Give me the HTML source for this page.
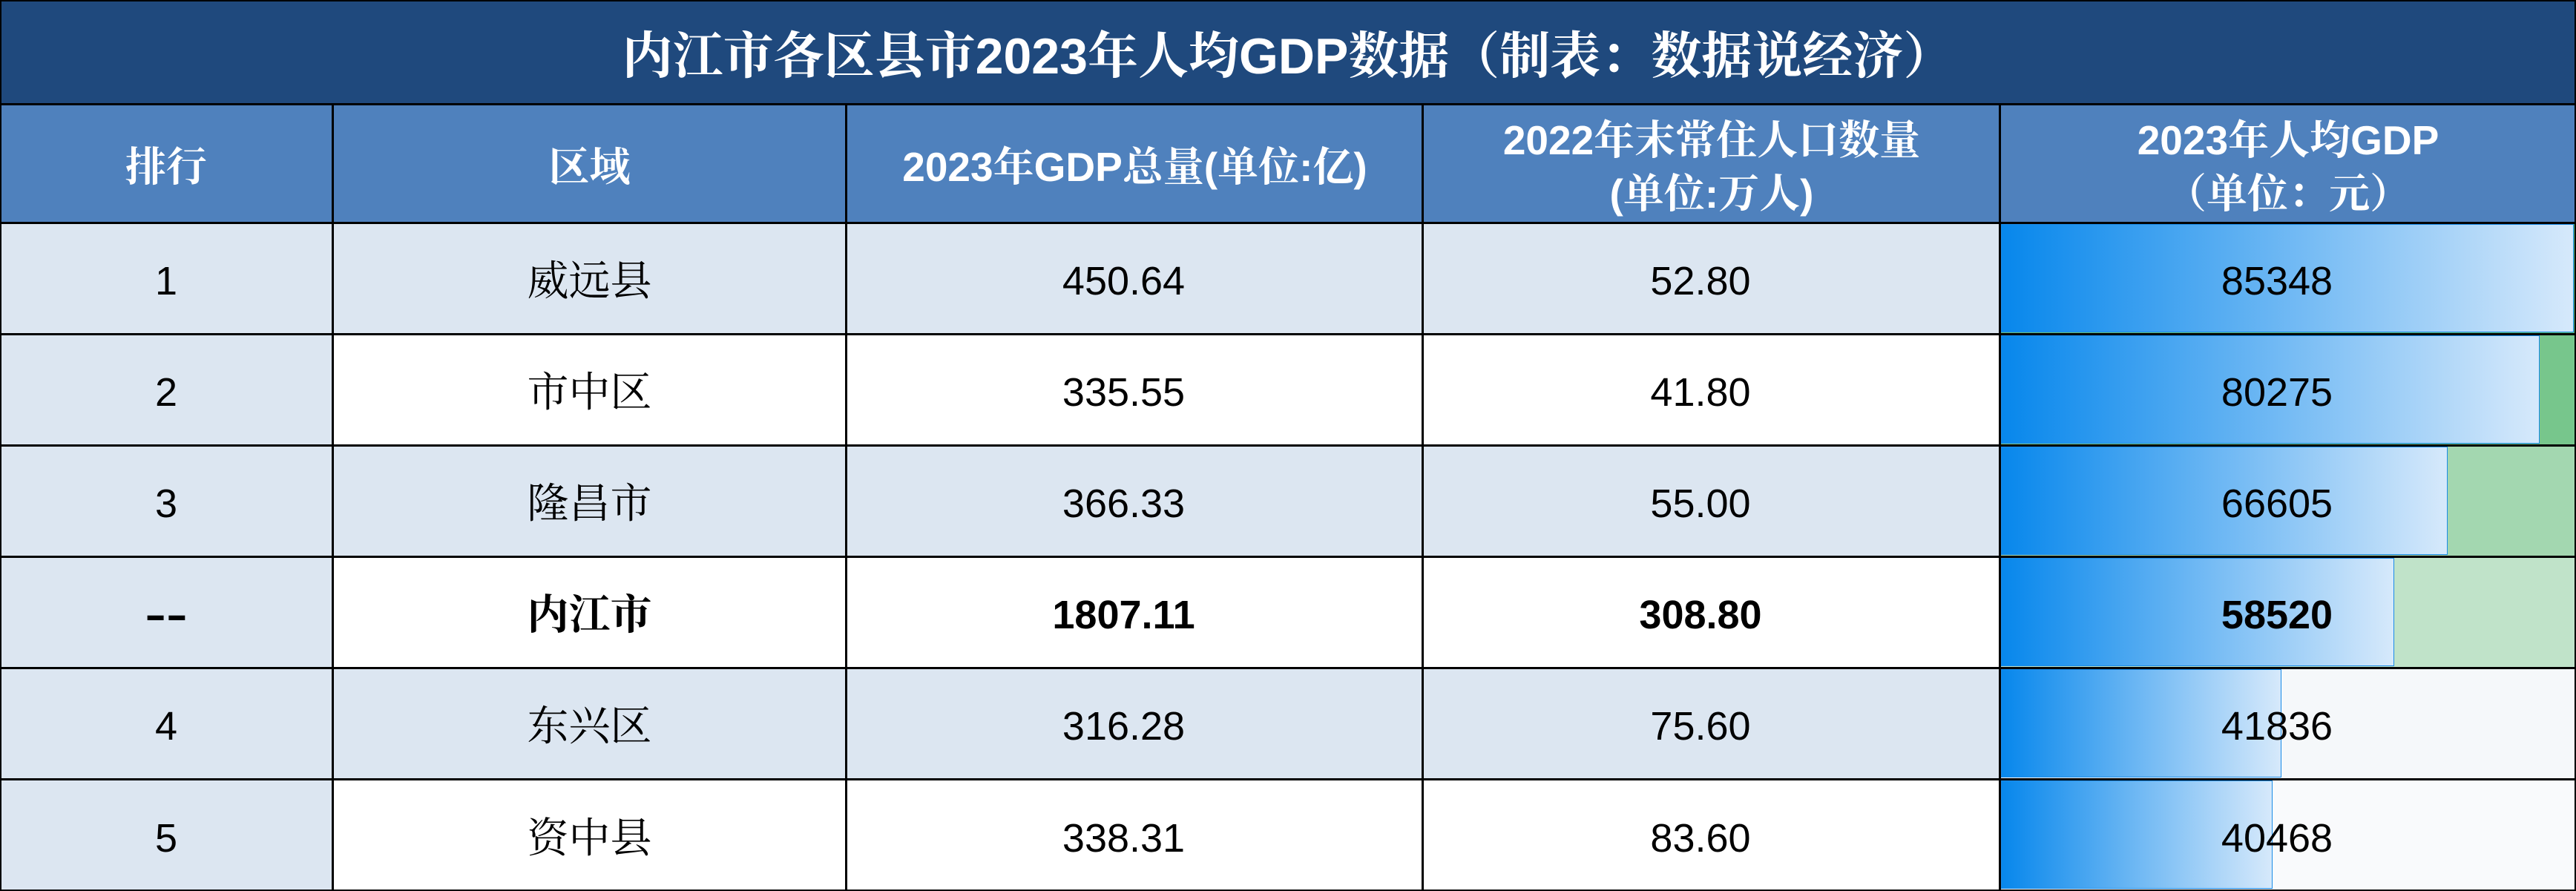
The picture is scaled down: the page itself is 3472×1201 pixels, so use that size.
<!DOCTYPE html>
<html><head><meta charset="utf-8">
<style>
html,body{margin:0;padding:0;background:#fff;}
body{width:3472px;height:1201px;position:relative;overflow:hidden;font-family:"Liberation Sans","Noto Serif CJK SC",sans-serif;}
.c{position:absolute;display:flex;align-items:center;justify-content:center;box-sizing:border-box;color:#000;}
.c span{position:relative;top:4px;line-height:1;white-space:nowrap;}
.cj{font-family:"Liberation Sans","Noto Serif CJK SC",serif;font-size:56px;}
.n{font-size:54px;padding-right:30px;}
.b{font-weight:bold;}
.h{background:#4f81bd;color:#fff;font-weight:bold;font-size:55px;text-align:center;}
.h span{line-height:72px;}
.L{position:absolute;background:#000;}
.bar{position:absolute;box-sizing:border-box;border:1.5px solid #1a8be8;}
</style></head><body>

<!-- title -->
<div class="c" style="left:0;top:0;width:3472px;height:141px;background:#1f497d;color:#fff;font-weight:bold;font-size:68px;"><span style="top:5px">内江市各区县市2023年人均GDP数据（制表：数据说经济）</span></div>

<!-- header -->
<div class="c h" style="left:0;top:140px;width:448px;height:161px;"><span>排行</span></div>
<div class="c h" style="left:448px;top:140px;width:693px;height:161px;"><span>区域</span></div>
<div class="c h" style="left:1141px;top:140px;width:777px;height:161px;"><span>2023年GDP总量(单位:亿)</span></div>
<div class="c h" style="left:1918px;top:140px;width:778px;height:161px;"><span>2022年末常住人口数量<br>(单位:万人)</span></div>
<div class="c h" style="left:2696px;top:140px;width:776px;height:161px;"><span>2023年人均GDP<br>（单位：元）</span></div>

<!-- column 1 backgrounds -->
<div style="position:absolute;left:0;top:300px;width:448px;height:901px;background:#dce6f1;"></div>
<!-- alternating rows cols 2-4 -->
<div style="position:absolute;left:448px;top:300px;width:2248px;height:150px;background:#dce6f1;"></div>
<div style="position:absolute;left:448px;top:600px;width:2248px;height:150px;background:#dce6f1;"></div>
<div style="position:absolute;left:448px;top:900px;width:2248px;height:150px;background:#dce6f1;"></div>

<!-- col5 colour scale backgrounds -->
<div style="position:absolute;left:2696px;top:300px;width:776px;height:150px;background:#63be7b;"></div>
<div style="position:absolute;left:2696px;top:450px;width:776px;height:150px;background:#77c68c;"></div>
<div style="position:absolute;left:2696px;top:600px;width:776px;height:150px;background:#a3d7b0;"></div>
<div style="position:absolute;left:2696px;top:750px;width:776px;height:150px;background:#c0e3c9;"></div>
<div style="position:absolute;left:2696px;top:900px;width:776px;height:150px;background:#f5f8fa;"></div>
<div style="position:absolute;left:2696px;top:1050px;width:776px;height:151px;background:#f9fafc;"></div>

<!-- data bars -->
<div class="bar" style="left:2697px;top:302px;width:772px;height:146px;background:linear-gradient(to right,#0787ec,#d6e9fb);"></div>
<div class="bar" style="left:2697px;top:452px;width:726px;height:146px;background:linear-gradient(to right,#0787ec,#d6e9fb);"></div>
<div class="bar" style="left:2697px;top:602px;width:602px;height:146px;background:linear-gradient(to right,#0787ec,#d6e9fb);"></div>
<div class="bar" style="left:2697px;top:752px;width:530px;height:146px;background:linear-gradient(to right,#0787ec,#d6e9fb);"></div>
<div class="bar" style="left:2697px;top:902px;width:378px;height:146px;background:linear-gradient(to right,#0787ec,#d6e9fb);"></div>
<div class="bar" style="left:2697px;top:1052px;width:366px;height:146px;background:linear-gradient(to right,#0787ec,#d6e9fb);"></div>

<!-- row 1 -->
<div class="c n" style="left:0;top:300px;width:448px;height:150px;padding-right:0;"><span>1</span></div>
<div class="c cj" style="left:448px;top:300px;width:693px;height:150px;"><span>威远县</span></div>
<div class="c n" style="left:1141px;top:300px;width:777px;height:150px;"><span>450.64</span></div>
<div class="c n" style="left:1918px;top:300px;width:778px;height:150px;"><span>52.80</span></div>
<div class="c n" style="left:2696px;top:300px;width:776px;height:150px;"><span>85348</span></div>
<!-- row 2 -->
<div class="c n" style="left:0;top:450px;width:448px;height:150px;padding-right:0;"><span>2</span></div>
<div class="c cj" style="left:448px;top:450px;width:693px;height:150px;"><span>市中区</span></div>
<div class="c n" style="left:1141px;top:450px;width:777px;height:150px;"><span>335.55</span></div>
<div class="c n" style="left:1918px;top:450px;width:778px;height:150px;"><span>41.80</span></div>
<div class="c n" style="left:2696px;top:450px;width:776px;height:150px;"><span>80275</span></div>
<!-- row 3 -->
<div class="c n" style="left:0;top:600px;width:448px;height:150px;padding-right:0;"><span>3</span></div>
<div class="c cj" style="left:448px;top:600px;width:693px;height:150px;"><span>隆昌市</span></div>
<div class="c n" style="left:1141px;top:600px;width:777px;height:150px;"><span>366.33</span></div>
<div class="c n" style="left:1918px;top:600px;width:778px;height:150px;"><span>55.00</span></div>
<div class="c n" style="left:2696px;top:600px;width:776px;height:150px;"><span>66605</span></div>
<!-- row 4 (bold) -->
<div class="c n b" style="left:0;top:750px;width:448px;height:150px;padding-right:0;"><span style="display:inline-block;transform:scaleX(1.6);">--</span></div>
<div class="c cj b" style="left:448px;top:750px;width:693px;height:150px;"><span>内江市</span></div>
<div class="c n b" style="left:1141px;top:750px;width:777px;height:150px;"><span>1807.11</span></div>
<div class="c n b" style="left:1918px;top:750px;width:778px;height:150px;"><span>308.80</span></div>
<div class="c n b" style="left:2696px;top:750px;width:776px;height:150px;"><span>58520</span></div>
<!-- row 5 -->
<div class="c n" style="left:0;top:900px;width:448px;height:150px;padding-right:0;"><span>4</span></div>
<div class="c cj" style="left:448px;top:900px;width:693px;height:150px;"><span>东兴区</span></div>
<div class="c n" style="left:1141px;top:900px;width:777px;height:150px;"><span>316.28</span></div>
<div class="c n" style="left:1918px;top:900px;width:778px;height:150px;"><span>75.60</span></div>
<div class="c n" style="left:2696px;top:900px;width:776px;height:150px;"><span>41836</span></div>
<!-- row 6 -->
<div class="c n" style="left:0;top:1050px;width:448px;height:151px;padding-right:0;"><span>5</span></div>
<div class="c cj" style="left:448px;top:1050px;width:693px;height:151px;"><span>资中县</span></div>
<div class="c n" style="left:1141px;top:1050px;width:777px;height:151px;"><span>338.31</span></div>
<div class="c n" style="left:1918px;top:1050px;width:778px;height:151px;"><span>83.60</span></div>
<div class="c n" style="left:2696px;top:1050px;width:776px;height:151px;"><span>40468</span></div>

<!-- grid lines -->
<div class="L" style="left:0;top:0;width:3472px;height:2px;"></div>
<div class="L" style="left:0;top:139px;width:3472px;height:3px;"></div>
<div class="L" style="left:0;top:299px;width:3472px;height:3px;"></div>
<div class="L" style="left:0;top:449px;width:3472px;height:3px;"></div>
<div class="L" style="left:0;top:599px;width:3472px;height:3px;"></div>
<div class="L" style="left:0;top:749px;width:3472px;height:3px;"></div>
<div class="L" style="left:0;top:899px;width:3472px;height:3px;"></div>
<div class="L" style="left:0;top:1049px;width:3472px;height:3px;"></div>
<div class="L" style="left:0;top:1199px;width:3472px;height:2px;"></div>

<div class="L" style="left:0;top:0;width:2px;height:1201px;"></div>
<div class="L" style="left:3470px;top:0;width:2px;height:1201px;"></div>
<div class="L" style="left:447px;top:139px;width:3px;height:1062px;"></div>
<div class="L" style="left:1139px;top:139px;width:3px;height:1062px;"></div>
<div class="L" style="left:1916px;top:139px;width:3px;height:1062px;"></div>
<div class="L" style="left:2694px;top:139px;width:3px;height:1062px;"></div>

</body></html>
